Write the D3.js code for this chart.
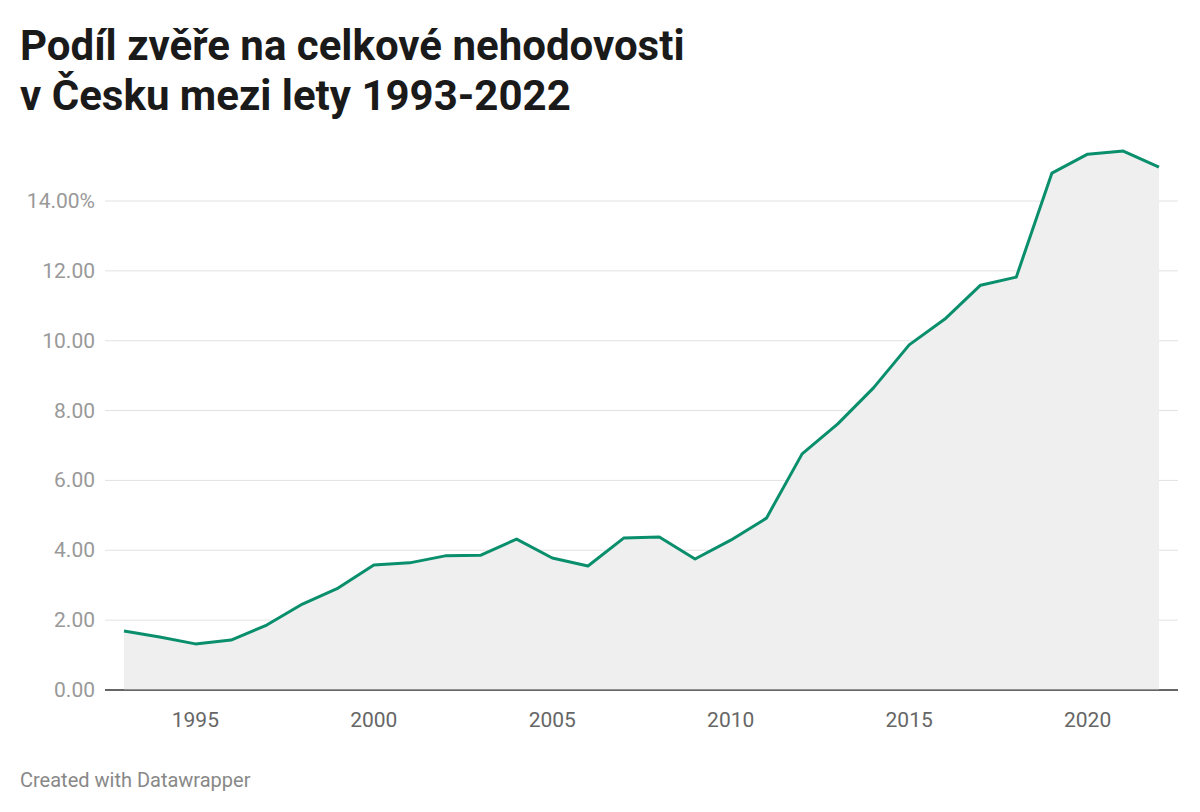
<!DOCTYPE html>
<html><head><meta charset="utf-8">
<script src="https://cdn.jsdelivr.net/npm/d3@7"></script>
<style>body{margin:0;background:#fff;font-family:Roboto,sans-serif}</style>
</head><body><svg width="1200" height="812"></svg>
<script>
const years = d3.range(1993, 2023);
const share = [1.69,1.52,1.32,1.43,1.86,2.46,2.92,3.58,3.64,3.84,3.86,4.32,3.78,3.55,4.35,4.38,3.75,4.29,4.92,6.76,7.62,8.65,9.88,10.62,11.59,11.82,14.80,15.34,15.43,14.97];
const yTicks = [0,2,4,6,8,10,12,14];
const xTicks = [1995,2000,2005,2010,2015,2020];
const data = years.map((y,i)=>({year:y,v:share[i]}));

const svg = d3.select('svg');
svg.append('text').attr('x',20).attr('y',60).text('Podíl zvěře na celkové nehodovosti')
  .style('font-size','42px').style('font-weight','bold').attr('fill','#1a1a1a');
svg.append('text').attr('x',20).attr('y',110).text('v Česku mezi lety 1993-2022')
  .style('font-size','42px').style('font-weight','bold').attr('fill','#1a1a1a');

const x = d3.scaleLinear().domain([1993,2022]).range([124,1159]);
const y = d3.scaleLinear().domain([0,14]).range([690,201]);

const grid = svg.append('g');
yTicks.forEach(t=>{
  grid.append('line').attr('x1',105).attr('x2',1178).attr('y1',y(t)).attr('y2',y(t))
    .attr('stroke', t===0 ? '#333' : '#e2e2e2').attr('stroke-width',1);
  grid.append('text').attr('x',95).attr('y',y(t)+7).attr('text-anchor','end')
    .text(t===14 ? '14.00%' : t.toFixed(2)).style('font-size','21px').attr('fill','#999');
});

svg.append('path').datum(data).attr('fill','#efefef')
  .attr('d', d3.area().x(d=>x(d.year)).y0(y(0)).y1(d=>y(d.v)));
svg.append('line').attr('x1',105).attr('x2',1178).attr('y1',y(0)).attr('y2',y(0)).attr('stroke','#333');

svg.append('path').datum(data).attr('fill','none').attr('stroke','#0a8f6d').attr('stroke-width',3)
  .attr('stroke-linejoin','round').attr('d', d3.line().x(d=>x(d.year)).y(d=>y(d.v)));

xTicks.forEach(t=>{
  svg.append('text').attr('x',x(t)).attr('y',727).attr('text-anchor','middle')
    .text(t).style('font-size','21px').attr('fill','#666');
});

svg.append('text').attr('x',20).attr('y',787).text('Created with Datawrapper')
  .style('font-size','20px').attr('fill','#888');
</script></body></html>
